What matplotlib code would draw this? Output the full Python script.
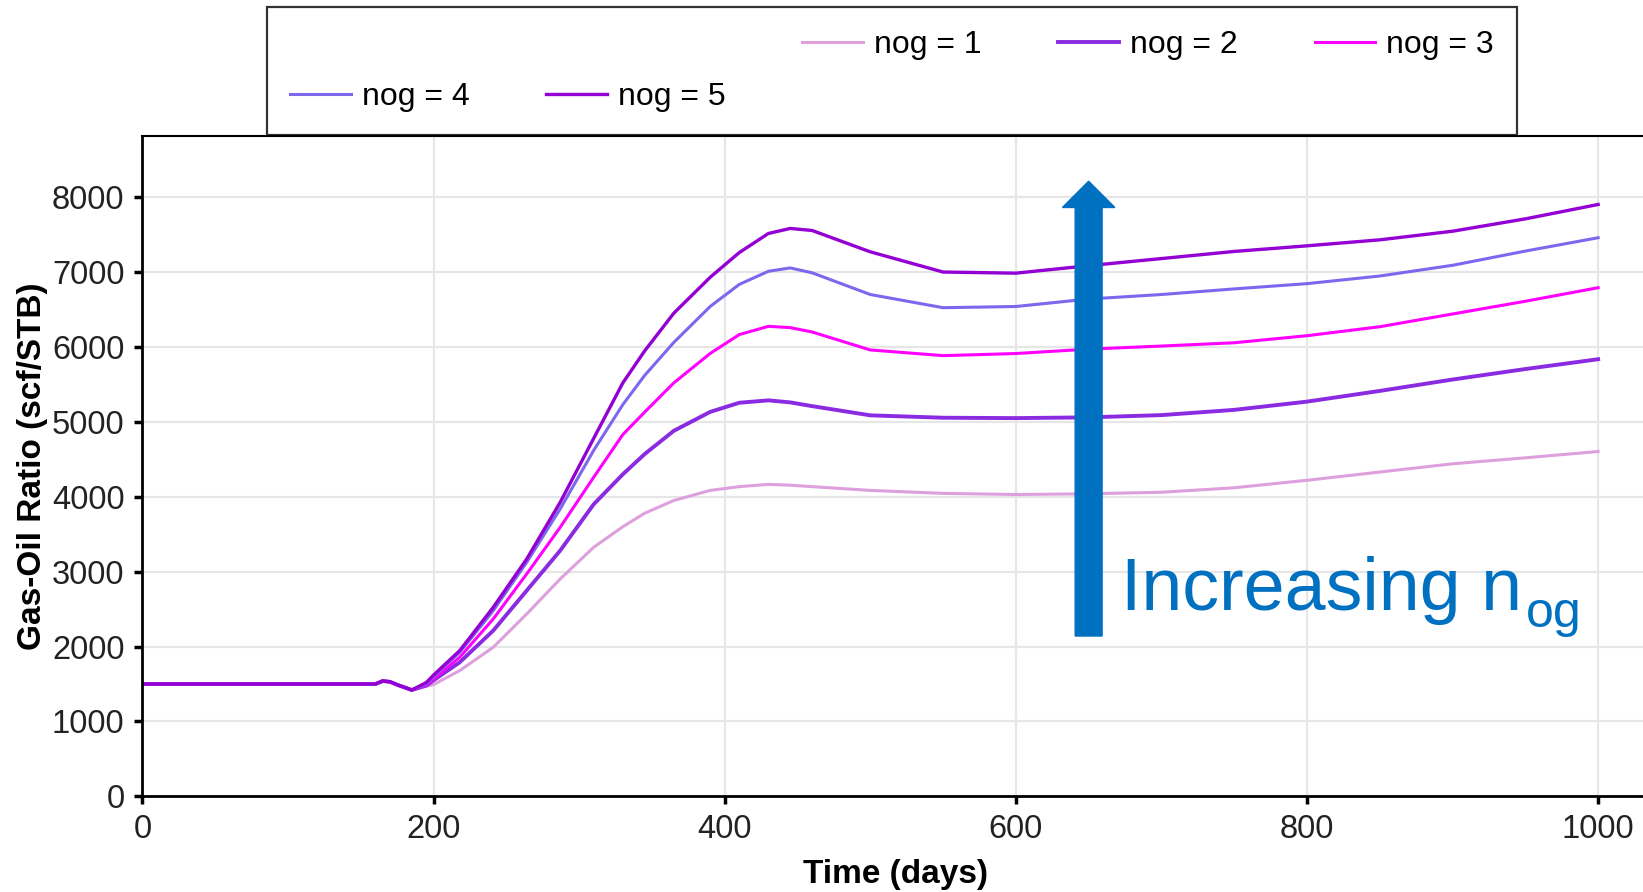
import matplotlib.pyplot as plt
from matplotlib.lines import Line2D

plt.rcParams['font.family'] = ['Liberation Sans', 'DejaVu Sans']

# time (days)
time = [0, 160, 165, 170, 175, 185, 195, 200, 218, 241, 264, 287, 310, 330, 345, 365,
        390, 410, 430, 445, 460, 500, 550, 600, 650, 700, 750, 800, 850, 900, 950, 1000]

# gas-oil ratio (scf/STB) for each nog
gor_nog1 = [1500, 1500, 1540, 1530, 1490, 1420, 1470, 1493, 1680, 1991, 2436, 2903, 3326, 3600, 3780, 3950,
            4085, 4135, 4165, 4155, 4135, 4085, 4045, 4030, 4040, 4060, 4120, 4220, 4330, 4440, 4520, 4604]
gor_nog2 = [1500, 1500, 1540, 1530, 1490, 1420, 1480, 1550, 1791, 2214, 2748, 3282, 3900, 4300, 4570, 4880,
            5133, 5255, 5287, 5260, 5210, 5087, 5055, 5050, 5060, 5090, 5160, 5270, 5413, 5565, 5705, 5836]
gor_nog3 = [1500, 1500, 1540, 1530, 1490, 1420, 1490, 1570, 1858, 2369, 2970, 3593, 4261, 4830, 5130, 5520,
            5913, 6165, 6275, 6258, 6200, 5960, 5884, 5912, 5971, 6012, 6056, 6150, 6270, 6440, 6610, 6791]
gor_nog4 = [1500, 1500, 1540, 1530, 1490, 1420, 1500, 1600, 1924, 2480, 3126, 3838, 4620, 5230, 5620, 6060,
            6540, 6835, 7010, 7055, 6990, 6700, 6524, 6540, 6640, 6700, 6775, 6845, 6947, 7090, 7280, 7458]
gor_nog5 = [1500, 1500, 1540, 1530, 1490, 1420, 1520, 1620, 1947, 2525, 3170, 3927, 4780, 5520, 5947, 6450,
            6930, 7260, 7515, 7582, 7555, 7270, 7000, 6985, 7085, 7180, 7275, 7350, 7430, 7545, 7710, 7902]

series = [
    ('nog = 1', gor_nog1, '#DDA0DD', 2.2),
    ('nog = 2', gor_nog2, '#8A2BE2', 2.8),
    ('nog = 3', gor_nog3, '#FF00FF', 2.2),
    ('nog = 4', gor_nog4, '#7B68EE', 2.2),
    ('nog = 5', gor_nog5, '#9400D3', 2.4),
]

fig = plt.figure(figsize=(16.43, 8.92), dpi=100)
ax = fig.add_axes([0.0867, 0.1072, 0.917, 0.7404])

handles = {}
for label, vals, color, lw in series:
    line, = ax.plot(time, vals, color=color, lw=lw, label=label)
    handles[label] = line

ax.set_xlim(0, 1035)
ax.set_ylim(0, 8817)
ax.set_xticks([0, 200, 400, 600, 800, 1000])
ax.set_yticks(range(0, 8001, 1000))
ax.grid(True, color='#e6e6e6', lw=1.6)
ax.set_axisbelow(True)
ax.tick_params(axis='both', labelsize=23.5, labelcolor='#222222', length=6, width=2.5, pad=7)
for s in ['left', 'bottom']:
    ax.spines[s].set_linewidth(2)
ax.spines['top'].set_linewidth(1.5)
ax.spines['right'].set_visible(False)

ax.set_xlabel('Time (days)', fontsize=24, fontweight='bold', labelpad=10)
ax.set_ylabel('Gas-Oil Ratio (scf/STB)', fontsize=24, fontweight='bold', labelpad=2.5)

# arrow + annotation
ax.arrow(650, 2141, 0, 8212 - 2141, width=18.5, head_width=36, head_length=350,
         length_includes_head=True, color='#0070C0', zorder=5)
t_main = ax.text(672, 2489, 'Increasing n', fontsize=53, color='#0070C0', ha='left', va='baseline')
ax.annotate('og', xy=(1, 2262), xycoords=(t_main, 'data'), xytext=(3, 0),
            textcoords='offset points', fontsize=36, color='#0070C0', ha='left', va='baseline')

# legend: 5 columns, row 1 = nog 1..3 on the right, row 2 = nog 4..5 on the left
blank = Line2D([], [], color='none')
leg_handles = [blank, handles['nog = 4'], blank, handles['nog = 5'],
               handles['nog = 1'], blank, handles['nog = 2'], blank, handles['nog = 3'], blank]
leg_labels = ['', 'nog = 4', '', 'nog = 5', 'nog = 1', '', 'nog = 2', '', 'nog = 3', '']
leg = fig.legend(leg_handles, leg_labels, ncol=5, loc='upper left',
                 bbox_to_anchor=(267 / 1643, 1 - 132 / 892, (1517 - 267) / 1643, 125 / 892),
                 mode='expand', fontsize=23, frameon=True, fancybox=False,
                 edgecolor='black', handlelength=1.9, handletextpad=0.35,
                 columnspacing=2.2, labelspacing=0.68, borderpad=0.72, borderaxespad=0)
leg.get_frame().set_linewidth(1.6)

plt.savefig('out.png', dpi=100)
